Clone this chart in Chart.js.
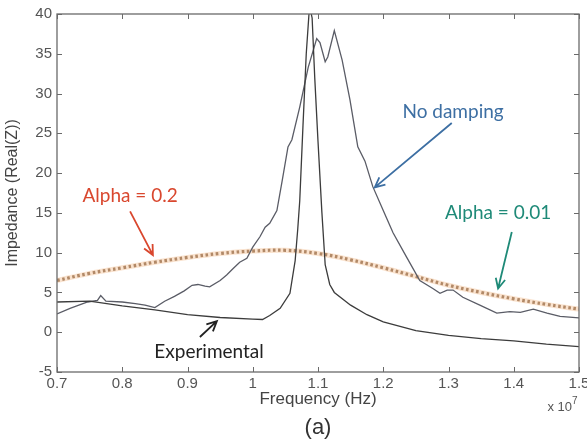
<!DOCTYPE html>
<html>
<head>
<meta charset="utf-8">
<title>Impedance vs frequency</title>
<script src="https://cdn.jsdelivr.net/npm/chart.js@4.4.0/dist/chart.umd.min.js"></script>
<style>
  html, body { margin: 0; padding: 0; background: #fff; }
  #wrap { width: 587px; height: 440px; }
</style>
</head>
<body>
<div id="wrap"><canvas id="impedanceChart" width="587" height="440"></canvas></div>
<script>
//---------------------------------------------------------
// Data (frequency in units of 1e7 Hz, impedance = Real(Z))

// Measured response
const expFreq = [0.70, 0.75, 0.80, 0.85, 0.90, 0.95, 1.00, 1.015, 1.026, 1.042, 1.057, 1.065, 1.069, 1.072,
  1.077, 1.082, 1.087, 1.091, 1.095, 1.100, 1.106, 1.111, 1.118, 1.125, 1.150, 1.175, 1.200, 1.250,
  1.300, 1.350, 1.400, 1.450, 1.500];
const expZ = [3.8, 3.9, 3.3, 2.8, 2.2, 1.85, 1.65, 1.6, 2.1, 3.0, 4.9, 9.0, 13.0, 16.5,
  26.0, 35.0, 41.0, 39.5, 32.0, 24.0, 15.0, 8.5, 6.0, 5.0, 3.4, 2.2, 1.3, 0.2,
  -0.4, -0.8, -1.1, -1.5, -1.8];

// Simulation without damping
const noDampFreq = [0.700, 0.720, 0.747, 0.762, 0.767, 0.775, 0.800, 0.820, 0.835, 0.850, 0.865, 0.880,
  0.895, 0.907, 0.916, 0.927, 0.934, 0.950, 0.960, 0.970, 0.980, 0.991, 1.000, 1.011, 1.019, 1.026,
  1.037, 1.045, 1.054, 1.060, 1.072, 1.085, 1.098, 1.103, 1.111, 1.115, 1.125, 1.137, 1.149, 1.161,
  1.172, 1.184, 1.200, 1.215, 1.236, 1.256, 1.276, 1.287, 1.298, 1.307, 1.322, 1.348, 1.374, 1.394,
  1.410, 1.430, 1.451, 1.471, 1.500];
const noDampZ = [2.3, 3.0, 3.8, 4.0, 4.6, 3.9, 3.8, 3.6, 3.4, 3.1, 3.9, 4.5,
  5.2, 5.9, 6.0, 5.8, 5.7, 6.5, 7.2, 8.0, 8.8, 9.3, 10.7, 12.0, 13.2, 13.7,
  15.3, 19.0, 23.3, 24.2, 28.3, 33.3, 36.9, 36.4, 34.0, 34.6, 37.9, 34.2, 29.2, 23.3,
  21.5, 18.3, 15.3, 12.5, 9.4, 6.5, 5.5, 4.9, 5.3, 5.3, 4.4, 3.4, 2.4, 2.6,
  2.5, 2.9, 2.4, 2.0, 1.8];

// Damped simulation, alpha = 0.2
const alphaFreq = [0.70, 0.75, 0.80, 0.85, 0.90, 0.95, 1.00, 1.05, 1.10, 1.15, 1.20, 1.25, 1.30, 1.35, 1.40, 1.45, 1.50];
const alphaZ = [6.5, 7.4, 8.1, 8.8, 9.4, 9.9, 10.2, 10.3, 9.9, 9.1, 8.1, 7.0, 5.9, 5.0, 4.2, 3.5, 2.9];

// Axis ticks
const xTicks = [0.7, 0.8, 0.9, 1.0, 1.1, 1.2, 1.3, 1.4, 1.5];
const yTicks = [-5, 0, 5, 10, 15, 20, 25, 30, 35, 40];

// Callout labels: text, colour, text anchor and arrow (tail -> head), in data units
const callouts = [
  { text: "No damping", color: "#3d6fa3", at: [1.307, 27.7], from: [1.305, 26.3], to: [1.187, 18.2] },
  { text: "Alpha = 0.2", color: "#d9472e", at: [0.812, 17.2], from: [0.812, 15.2], to: [0.847, 9.7] },
  { text: "Alpha = 0.01", color: "#1f8a78", at: [1.376, 15.0], from: [1.397, 12.6], to: [1.376, 5.5] },
  { text: "Experimental", color: "#222222", at: [0.933, -2.5], from: [0.919, -0.6], to: [0.945, 1.4] },
];

const toPoints = (xs, ys) => xs.map((x, i) => ({ x: x, y: ys[i] }));

const sans = "'Liberation Sans', Arial, sans-serif";

//---------------------------------------------------------
// Matlab-style frame: box round the plot with inward ticks on all four sides
const framePlugin = {
  id: "frame",
  afterDatasetsDraw(chart) {
    const { ctx, chartArea: a, scales } = chart;
    ctx.save();
    ctx.strokeStyle = "#6a6a6a";
    ctx.lineWidth = 1.3;
    ctx.strokeRect(a.left, a.top, a.right - a.left, a.bottom - a.top);
    ctx.lineWidth = 1;
    ctx.beginPath();
    xTicks.forEach((v) => {
      const px = Math.round(scales.x.getPixelForValue(v)) + 0.5;
      ctx.moveTo(px, a.bottom); ctx.lineTo(px, a.bottom - 5);
      ctx.moveTo(px, a.top); ctx.lineTo(px, a.top + 5);
    });
    yTicks.forEach((v) => {
      const py = Math.round(scales.y.getPixelForValue(v)) + 0.5;
      ctx.moveTo(a.left, py); ctx.lineTo(a.left + 5, py);
      ctx.moveTo(a.right, py); ctx.lineTo(a.right - 5, py);
    });
    ctx.stroke();
    ctx.restore();
  },
  afterDraw(chart) {
    const { ctx, chartArea: a, scales } = chart;
    ctx.save();
    // exponent for the frequency axis
    ctx.fillStyle = "#555";
    ctx.textBaseline = "alphabetic";
    ctx.textAlign = "right";
    ctx.font = "13px " + sans;
    ctx.fillText("x 10", a.right - 7, a.bottom + 39);
    ctx.font = "10px " + sans;
    ctx.textAlign = "left";
    ctx.fillText("7", a.right - 7, a.bottom + 32);

    // panel label under the axis title
    ctx.fillStyle = "#333";
    ctx.font = "22px " + sans;
    ctx.textAlign = "center";
    ctx.textBaseline = "middle";
    ctx.fillText("(a)", (a.left + a.right) / 2, a.bottom + 56);

    // callouts with open arrowheads
    callouts.forEach((c) => {
      const tx = scales.x.getPixelForValue(c.at[0]);
      const ty = scales.y.getPixelForValue(c.at[1]);
      const x0 = scales.x.getPixelForValue(c.from[0]);
      const y0 = scales.y.getPixelForValue(c.from[1]);
      const x1 = scales.x.getPixelForValue(c.to[0]);
      const y1 = scales.y.getPixelForValue(c.to[1]);
      ctx.font = "19px Lato, 'Open Sans', sans-serif";
      ctx.fillStyle = c.color;
      ctx.textAlign = "center";
      ctx.textBaseline = "middle";
      ctx.fillText(c.text, tx, ty);

      ctx.strokeStyle = c.color;
      ctx.lineWidth = 1.8;
      ctx.beginPath();
      ctx.moveTo(x0, y0);
      ctx.lineTo(x1, y1);
      const ang = Math.atan2(y1 - y0, x1 - x0);
      const len = 11;
      ctx.moveTo(x1 - len * Math.cos(ang - 0.45), y1 - len * Math.sin(ang - 0.45));
      ctx.lineTo(x1, y1);
      ctx.lineTo(x1 - len * Math.cos(ang + 0.45), y1 - len * Math.sin(ang + 0.45));
      ctx.stroke();
    });
    ctx.restore();
  },
};

//---------------------------------------------------------
// Chart
const axisFont = { family: sans, size: 15 };

new Chart(document.getElementById("impedanceChart").getContext("2d"), {
  type: "line",
  data: {
    datasets: [
      {
        label: "Experimental",
        data: toPoints(expFreq, expZ),
        borderColor: "#3c3c3c",
        borderWidth: 1.3,
        pointRadius: 0,
        tension: 0,
      },
      {
        label: "No damping",
        data: toPoints(noDampFreq, noDampZ),
        borderColor: "#5a5c66",
        borderWidth: 1.3,
        pointRadius: 0,
        tension: 0,
      },
      {
        // soft orange band under the dotted curve
        label: "Alpha = 0.2 band",
        data: toPoints(alphaFreq, alphaZ),
        borderColor: "rgba(246, 200, 160, 0.5)",
        borderWidth: 5,
        pointRadius: 0,
        tension: 0.4,
      },
      {
        label: "Alpha = 0.2",
        data: toPoints(alphaFreq, alphaZ),
        borderColor: "#6e4b2f",
        borderWidth: 3.2,
        borderDash: [2.6, 2.6],
        borderCapStyle: "butt",
        pointRadius: 0,
        tension: 0.4,
      },
    ],
  },
  options: {
    responsive: false,
    animation: false,
    layout: { padding: { top: 14, right: 8, left: 0, bottom: 30 } },
    scales: {
      x: {
        type: "linear",
        min: 0.7,
        max: 1.5,
        afterBuildTicks: (s) => { s.ticks = xTicks.map((v) => ({ value: v })); },
        afterFit: (s) => { s.height = 38; s.paddingLeft = 0; s.paddingRight = 0; },
        grid: { display: false, drawTicks: false },
        border: { display: false },
        ticks: {
          color: "#555",
          font: axisFont,
          padding: 3,
          maxRotation: 0,
          autoSkip: false,
          callback: (v) => String(Math.round(v * 10) / 10),
        },
        title: {
          display: true,
          text: "Frequency (Hz)",
          color: "#444",
          font: { family: sans, size: 17 },
          padding: { top: 0, bottom: 0 },
        },
      },
      y: {
        min: -5,
        max: 40,
        afterBuildTicks: (s) => { s.ticks = yTicks.map((v) => ({ value: v })); },
        afterFit: (s) => { s.width = 57; s.paddingTop = 0; s.paddingBottom = 0; },
        grid: { display: false, drawTicks: false },
        border: { display: false },
        ticks: { color: "#555", font: axisFont, padding: 5, autoSkip: false },
        title: {
          display: true,
          text: "Impedance (Real(Z))",
          color: "#444",
          font: { family: sans, size: 16 },
          padding: { top: 3, bottom: 0 },
        },
      },
    },
    plugins: {
      legend: { display: false },
      tooltip: { enabled: false },
    },
  },
  plugins: [framePlugin],
});
</script>
</body>
</html>
